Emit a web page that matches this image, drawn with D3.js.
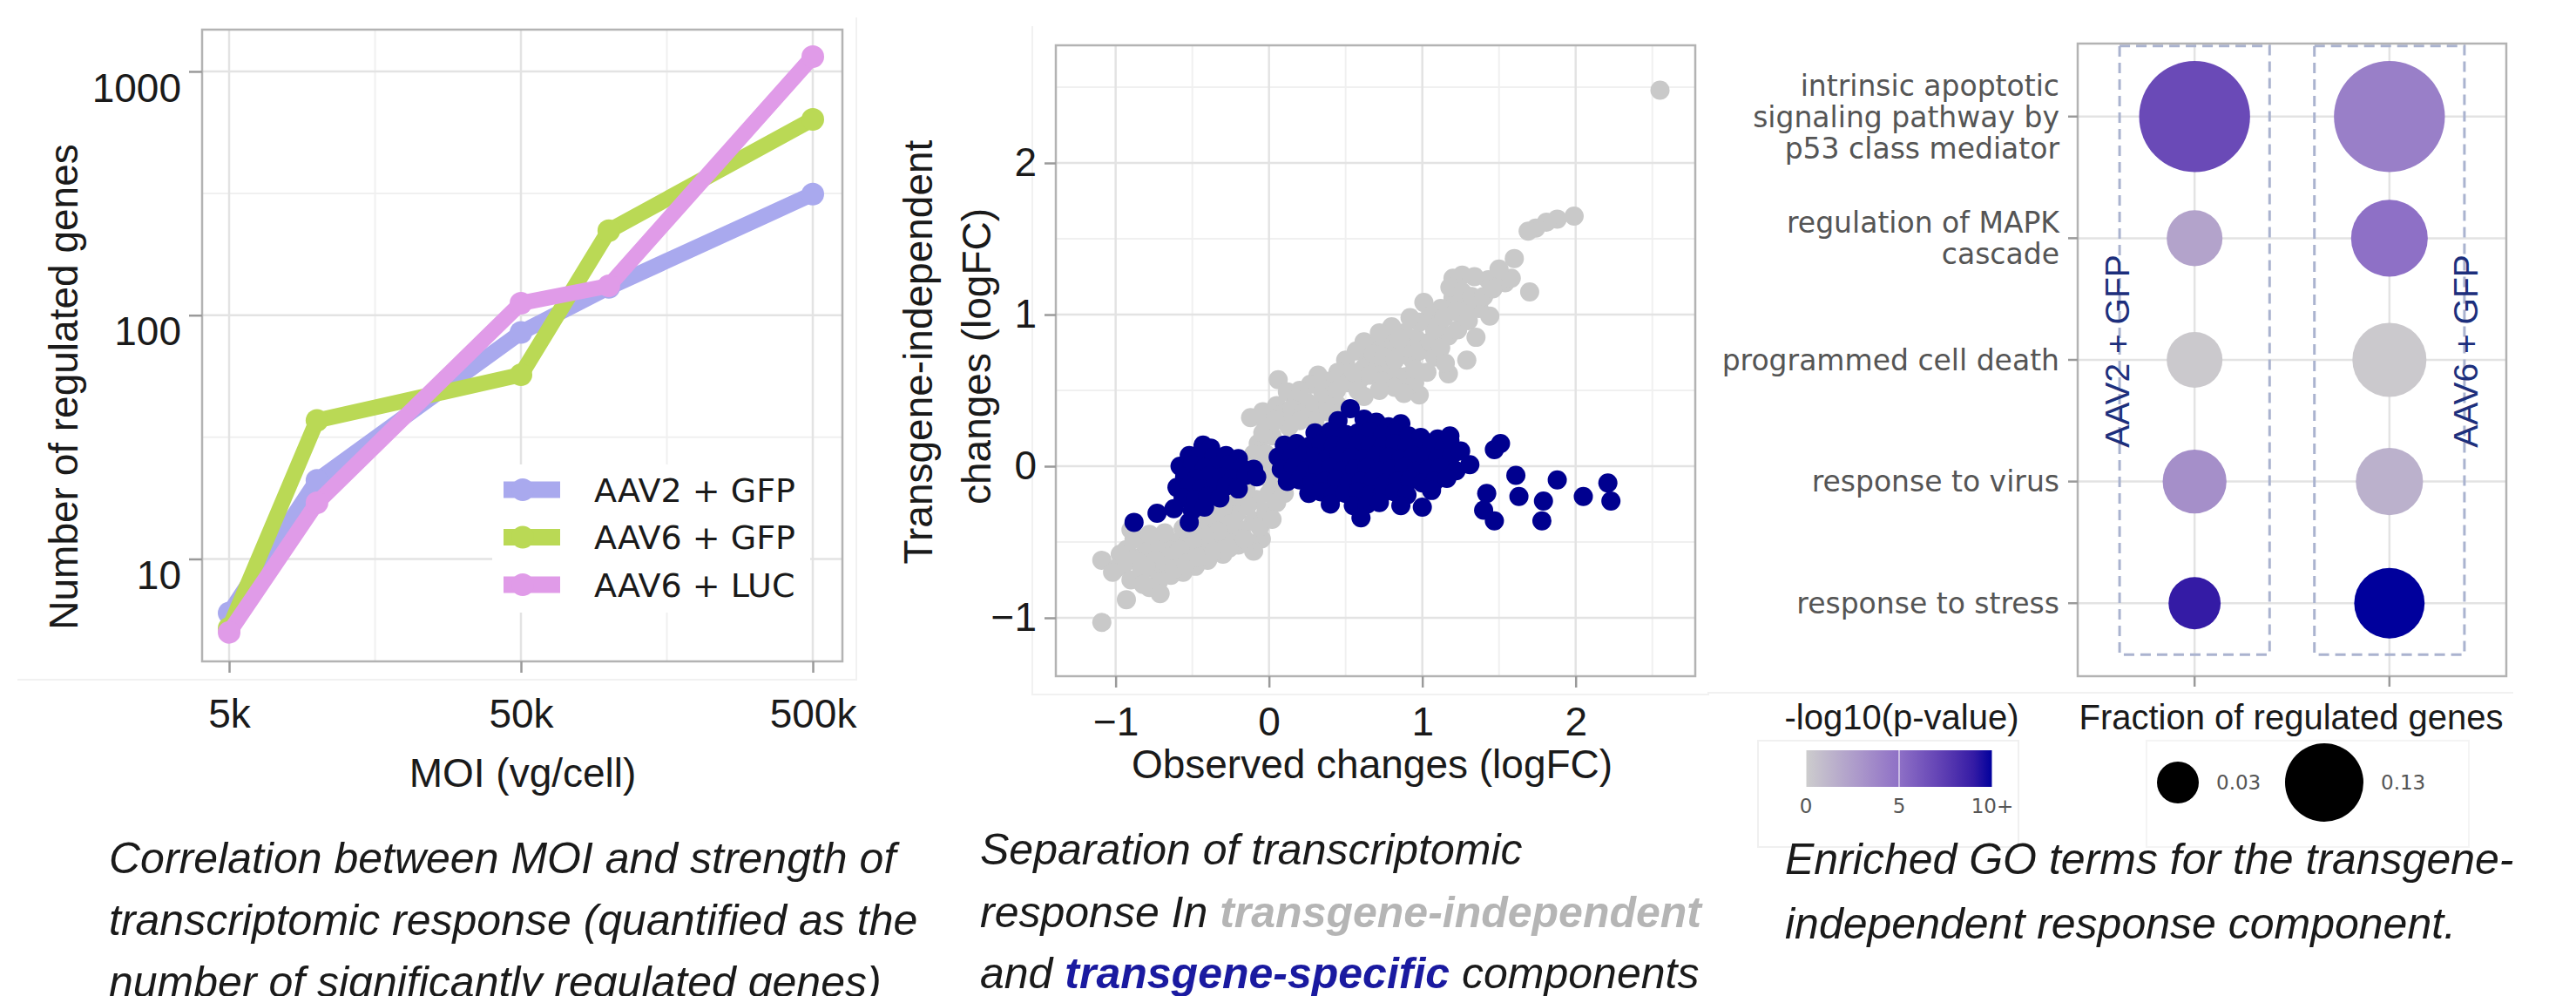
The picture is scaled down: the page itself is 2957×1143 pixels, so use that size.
<!DOCTYPE html>
<html>
<head>
<meta charset="utf-8">
<script src="https://cdn.jsdelivr.net/npm/d3@7"></script>
<style>
  body { margin: 0; background: #fff; }
  text { font-family: "Liberation Sans", Arial, sans-serif; }
</style>
</head>
<body>
<div id="chart"></div>
<script>
// ---------- panel 1 : MOI vs number of regulated genes ----------
const moi = [5000, 10000, 50000, 100000, 500000];
const moiTicks = [5000, 50000, 500000];
const moiLabels = ["5k", "50k", "500k"];
const geneTicks = [10, 100, 1000];
const seriesNames = ["AAV2 + GFP", "AAV6 + GFP", "AAV6 + LUC"];
const aav2Gfp = [6, 21, 85, 130, 314];
const aav6Gfp = [5.2, 37, 57, 222, 636];
const aav6Luc = [5, 17, 112, 132, 1150];
const seriesColors = ["#a9a9ee", "#bad955", "#e09be8"];

// ---------- panel 2 : observed vs transgene-independent logFC ----------
const logfcTicks = [-1, 0, 1, 2];
const grayPts = [
  [2.55,2.48],[1.99,1.65],[1.88,1.63],[1.81,1.61],[1.74,1.57],[1.69,1.55],
  [1.60,1.37],[1.54,1.21],[1.58,1.24],[1.70,1.15],[1.43,1.23],[1.34,1.25],[1.26,1.26],[1.20,1.24],
  [1.44,0.99],[1.37,1.04],[1.29,1.07],[1.20,1.11],[1.12,1.04],[1.01,1.08],[1.05,0.99],[1.11,0.94],
  [1.17,0.86],[1.23,0.90],[1.29,0.70],[1.17,0.61],[0.98,0.47],[1.03,0.62],[0.96,0.84],[0.88,0.88],
  [0.80,0.92],[0.78,0.80],[0.86,0.75],[0.93,0.71],[0.70,0.80],[0.62,0.82],[0.57,0.76],[0.65,0.70],
  [0.73,0.66],[0.81,0.62],[0.89,0.59],[0.95,0.55],[0.50,0.70],[0.45,0.62],[0.39,0.56],[0.32,0.60],
  [0.27,0.54],[0.20,0.50],[0.35,0.49],[0.51,0.55],[0.60,0.58],[0.06,0.57],[0.12,0.49],[0.18,0.44],
  [0.25,0.42],[0.05,0.40],[-0.04,0.36],[-0.12,0.32],[-0.02,0.28],[0.08,0.34],[0.13,0.26],[0.02,0.20],
  [-0.07,0.15],[-0.02,0.08],[0.03,0.00],[-0.05,-0.05],[0.07,-0.12],[0.00,-0.18],[-0.08,-0.22],
  [0.15,0.38],[0.22,0.35],[0.30,0.40],[0.38,0.45],[0.44,0.50],[0.55,0.62],[0.62,0.65],[0.68,0.74],
  [0.75,0.72],[0.82,0.70],[0.90,0.78],[0.98,0.76],[1.05,0.82],[1.08,0.90],[0.98,0.95],[0.92,0.98],
  [0.85,0.84],[0.72,0.88],[0.66,0.60],[0.74,0.56],[0.82,0.52],[0.88,0.48],[0.58,0.50],[0.45,0.40],
  [0.38,0.36],[1.14,0.98],[1.18,1.18],[1.26,1.15],[1.32,1.12],[1.22,1.02],[1.30,0.96],[1.35,0.85],
  [1.08,0.72],[1.12,0.78],[0.95,0.64],[0.72,0.50],[0.62,0.46],[0.30,0.30],[0.20,0.30],[1.15,0.68],
  [1.40,1.12],[1.50,1.30],[1.46,1.17],
  [-0.14,-0.26],[-0.21,-0.31],[-0.29,-0.36],[-0.37,-0.40],[-0.45,-0.43],[-0.53,-0.47],[-0.60,-0.50],
  [-0.68,-0.54],[-0.76,-0.58],[-0.84,-0.60],[-0.93,-0.55],
  [-0.10,-0.36],[-0.18,-0.42],[-0.26,-0.46],[-0.34,-0.50],[-0.42,-0.54],[-0.50,-0.58],[-0.58,-0.62],
  [-0.66,-0.64],[-0.74,-0.68],[-0.83,-0.70],
  [-0.05,-0.48],[-0.10,-0.56],[-0.20,-0.52],[-0.30,-0.58],[-0.40,-0.62],[-0.48,-0.66],[-0.56,-0.70],
  [-0.64,-0.72],[-0.72,-0.76],[-0.62,-0.60],[-0.70,-0.50],[-0.80,-0.52],[-0.88,-0.48],[-0.97,-0.58],
  [-1.09,-0.62],[-0.99,-0.67],[-1.09,-1.03],[-0.93,-0.88],[-0.71,-0.84],[-0.78,-0.80],
  [-0.02,-0.30],[0.05,-0.24],[-0.35,-0.30],[-0.25,-0.26],[-0.48,-0.36],
  [-0.15,-0.15],[-0.22,-0.20],[-0.30,-0.28],[-0.38,-0.34],[-0.45,-0.36],[-0.15,-0.50],[-0.25,-0.38],
  [-0.33,-0.43],[-0.42,-0.47],[-0.50,-0.50],[-0.58,-0.55],[-0.66,-0.60],[-0.74,-0.62],[-0.80,-0.66],
  [-0.88,-0.62],[-0.95,-0.65],[-1.02,-0.70],[-0.90,-0.75],[-0.82,-0.78],[-0.62,-0.68],[-0.54,-0.64],
  [-0.46,-0.60],[-0.36,-0.56],[-0.26,-0.54],[-0.16,-0.48],[-0.06,-0.40],[0.02,-0.35],[0.10,-0.18],
  [0.08,-0.05],[0.00,-0.08],[-0.06,0.02],[-0.10,0.08],[-0.04,0.22],[0.04,0.30],[-0.90,-0.42],
  [-0.78,-0.45],[-0.68,-0.44],[-0.56,-0.41]
];
const navyPts = [
  [0.53,0.38],
  [0.45,0.30],[0.62,0.31],[0.70,0.29],[0.86,0.28],[0.78,0.26],
  [0.30,0.22],[0.40,0.23],[0.50,0.21],[0.58,0.22],[0.66,0.23],[0.74,0.21],[0.82,0.22],[0.91,0.20],
  [0.99,0.19],[1.10,0.18],[1.18,0.17],
  [0.10,0.14],[0.18,0.15],[0.26,0.13],[0.34,0.15],[0.42,0.14],[0.50,0.13],[0.58,0.15],[0.66,0.14],
  [0.74,0.13],[0.82,0.15],[0.90,0.13],[0.98,0.12],[1.06,0.14],[1.14,0.12],
  [0.06,0.06],[0.14,0.05],[0.22,0.07],[0.30,0.06],[0.38,0.05],[0.46,0.07],[0.54,0.06],[0.62,0.05],
  [0.70,0.07],[0.78,0.06],[0.86,0.05],[0.94,0.07],[1.02,0.06],[1.10,0.05],[1.19,0.07],
  [0.08,-0.02],[0.16,-0.01],[0.24,-0.03],[0.32,-0.02],[0.40,-0.01],[0.48,-0.03],[0.56,-0.02],
  [0.64,-0.01],[0.72,-0.03],[0.80,-0.02],[0.88,-0.01],[0.96,-0.03],[1.04,-0.02],[1.12,-0.01],
  [1.22,-0.03],[1.31,0.01],
  [0.12,-0.10],[0.20,-0.09],[0.28,-0.11],[0.36,-0.10],[0.44,-0.09],[0.52,-0.11],[0.60,-0.10],
  [0.68,-0.09],[0.76,-0.11],[0.84,-0.10],[0.92,-0.09],[1.00,-0.11],[1.08,-0.10],[1.16,-0.08],
  [0.26,-0.18],[0.34,-0.17],[0.42,-0.19],[0.50,-0.18],[0.58,-0.17],[0.66,-0.19],[0.74,-0.18],
  [0.82,-0.17],[0.90,-0.19],[1.06,-0.16],
  [0.40,-0.25],[0.55,-0.26],[0.64,-0.25],[0.72,-0.24],[0.86,-0.26],[1.00,-0.27],[0.60,-0.34],
  [1.47,0.11],[1.51,0.15],[1.61,-0.06],[1.63,-0.20],[1.42,-0.18],[1.40,-0.29],[1.47,-0.36],
  [1.79,-0.23],[1.78,-0.36],[1.88,-0.09],[2.05,-0.20],[2.21,-0.11],[2.23,-0.23],[1.18,0.20],[1.25,0.10],
  [-0.43,0.14],[-0.38,0.12],
  [-0.52,0.07],[-0.45,0.08],[-0.36,0.06],[-0.28,0.07],[-0.20,0.05],
  [-0.58,0.00],[-0.50,0.01],[-0.42,-0.01],[-0.34,0.00],[-0.26,0.01],[-0.18,-0.01],[-0.10,-0.02],
  [-0.55,-0.07],[-0.47,-0.08],[-0.39,-0.06],[-0.31,-0.07],[-0.23,-0.08],[-0.15,-0.06],[-0.08,-0.07],
  [-0.60,-0.14],[-0.52,-0.13],[-0.44,-0.15],[-0.36,-0.14],[-0.28,-0.13],[-0.20,-0.15],
  [-0.56,-0.21],[-0.48,-0.22],[-0.40,-0.20],[-0.32,-0.21],
  [-0.62,-0.28],[-0.50,-0.29],[-0.42,-0.27],
  [-0.73,-0.31],[-0.88,-0.37],[-0.52,-0.37]
];

// ---------- panel 3 : enriched GO terms ----------
const goTerms = [
  ["intrinsic apoptotic", "signaling pathway by", "p53 class mediator"],
  ["regulation of MAPK", "cascade"],
  ["programmed cell death"],
  ["response to virus"],
  ["response to stress"]
];
const groups = ["AAV2 + GFP", "AAV6 + GFP"];
const fracAav2 = [0.27, 0.061, 0.061, 0.083, 0.052];
const fracAav6 = [0.27, 0.124, 0.115, 0.093, 0.103];
const pvalAav2 = [6.8, 2.2, 0.2, 3.3, 9.0];
const pvalAav6 = [4.2, 5.0, 0.2, 1.5, 12];
const sizeBreaks = [0.03, 0.13];
const colorBreaks = [0, 5, 10];

// ---------- drawing ----------
const W = 2957, H = 1143;
const svg = d3.select("#chart").append("svg")
  .attr("width", W).attr("height", H)
  .style("background", "#fff");

const ink = "#1a1a1a";
const gridMajor = "#e3e3e3", gridMinor = "#f0f0f0", frame = "#b3b3b3";

function styleAxis(g, size) {
  g.select(".domain").remove();
  g.selectAll(".tick line").attr("stroke", "#9a9a9a").attr("stroke-width", 2.5);
  g.selectAll(".tick text").attr("fill", ink).style("font-size", size + "px");
}

// ===== panel 1 =====
const p1 = { l: 232, r: 967, t: 34, b: 759 };
const x1 = d3.scaleLog().domain([4040, 631600]).range([p1.l, p1.r]);
const y1 = d3.scaleLog().domain([3.8, 1484]).range([p1.b, p1.t]);
const g1 = svg.append("g");

g1.append("path").attr("d", `M20,780H983V20`).attr("fill", "none").attr("stroke", "#f1f1f1").attr("stroke-width", 2);

g1.selectAll(".vminor").data([15811, 158114]).join("line")
  .attr("x1", d => x1(d)).attr("x2", d => x1(d)).attr("y1", p1.t).attr("y2", p1.b)
  .attr("stroke", gridMinor).attr("stroke-width", 2);
g1.selectAll(".hminor").data([31.6, 316]).join("line")
  .attr("y1", d => y1(d)).attr("y2", d => y1(d)).attr("x1", p1.l).attr("x2", p1.r)
  .attr("stroke", gridMinor).attr("stroke-width", 2);
g1.selectAll(".vmajor").data(moiTicks).join("line")
  .attr("x1", d => x1(d)).attr("x2", d => x1(d)).attr("y1", p1.t).attr("y2", p1.b)
  .attr("stroke", gridMajor).attr("stroke-width", 2.5);
g1.selectAll(".hmajor").data(geneTicks).join("line")
  .attr("y1", d => y1(d)).attr("y2", d => y1(d)).attr("x1", p1.l).attr("x2", p1.r)
  .attr("stroke", gridMajor).attr("stroke-width", 2.5);

const series = [aav2Gfp, aav6Gfp, aav6Luc];
const line1 = d3.line().x((d, i) => x1(moi[i])).y(d => y1(d));
series.forEach((vals, k) => {
  g1.append("path").datum(vals).attr("d", line1)
    .attr("fill", "none").attr("stroke", seriesColors[k])
    .attr("stroke-width", 18).attr("stroke-linejoin", "round").attr("stroke-linecap", "round");
  g1.selectAll(null).data(vals).join("circle")
    .attr("cx", (d, i) => x1(moi[i])).attr("cy", d => y1(d)).attr("r", 13)
    .attr("fill", seriesColors[k]);
});

g1.append("rect").attr("x", p1.l).attr("y", p1.t)
  .attr("width", p1.r - p1.l).attr("height", p1.b - p1.t)
  .attr("fill", "none").attr("stroke", frame).attr("stroke-width", 2.5);

const ax1 = g1.append("g").attr("transform", `translate(0,${p1.b})`)
  .call(d3.axisBottom(x1).tickValues(moiTicks).tickFormat((d, i) => moiLabels[i]).tickSize(13).tickPadding(30));
styleAxis(ax1, 46);
const ay1 = g1.append("g").attr("transform", `translate(${p1.l},0)`)
  .call(d3.axisLeft(y1).tickValues(geneTicks).tickFormat(d3.format("d")).tickSize(15).tickPadding(9));
styleAxis(ay1, 46);
ay1.selectAll(".tick text").attr("dy", "0.74em");

g1.append("text").attr("x", 600).attr("y", 903).attr("text-anchor", "middle")
  .attr("fill", ink).style("font-size", "46px").text("MOI (vg/cell)");
g1.append("text").attr("transform", "translate(89,444) rotate(-90)").attr("text-anchor", "middle")
  .attr("fill", ink).style("font-size", "46px").text("Number of regulated genes");

// legend
const leg1 = g1.append("g");
leg1.append("rect").attr("x", 565).attr("y", 533).attr("width", 365).attr("height", 170).attr("fill", "#fff");
const legY = d3.scalePoint().domain(seriesNames).range([562, 671]);
seriesNames.forEach((name, k) => {
  const yy = legY(name);
  leg1.append("line").attr("x1", 578).attr("x2", 643).attr("y1", yy).attr("y2", yy)
    .attr("stroke", seriesColors[k]).attr("stroke-width", 19);
  leg1.append("circle").attr("cx", 600).attr("cy", yy).attr("r", 13).attr("fill", seriesColors[k]);
  leg1.append("text").attr("x", 682).attr("y", yy).attr("dy", "0.36em")
    .style("font-family", "'DejaVu Sans', sans-serif").style("font-size", "38px")
    .attr("fill", ink).text(name);
});

// ===== panel 2 =====
const p2 = { l: 1212, r: 1946, t: 52, b: 776 };
const x2 = d3.scaleLinear().domain([-1.39, 2.78]).range([p2.l, p2.r]);
const y2 = d3.scaleLinear().domain([-1.385, 2.776]).range([p2.b, p2.t]);
const g2 = svg.append("g");

g2.append("path").attr("d", `M1185,30V797H1962`).attr("fill", "none").attr("stroke", "#f1f1f1").attr("stroke-width", 2);

const minor2 = [-0.5, 0.5, 1.5, 2.5];
g2.selectAll(".vminor").data(minor2).join("line")
  .attr("x1", d => x2(d)).attr("x2", d => x2(d)).attr("y1", p2.t).attr("y2", p2.b)
  .attr("stroke", gridMinor).attr("stroke-width", 2);
g2.selectAll(".hminor").data(minor2).join("line")
  .attr("y1", d => y2(d)).attr("y2", d => y2(d)).attr("x1", p2.l).attr("x2", p2.r)
  .attr("stroke", gridMinor).attr("stroke-width", 2);
g2.selectAll(".vmajor").data(logfcTicks).join("line")
  .attr("x1", d => x2(d)).attr("x2", d => x2(d)).attr("y1", p2.t).attr("y2", p2.b)
  .attr("stroke", gridMajor).attr("stroke-width", 2.5);
g2.selectAll(".hmajor").data(logfcTicks).join("line")
  .attr("y1", d => y2(d)).attr("y2", d => y2(d)).attr("x1", p2.l).attr("x2", p2.r)
  .attr("stroke", gridMajor).attr("stroke-width", 2.5);

g2.selectAll(".gray").data(grayPts).join("circle")
  .attr("cx", d => x2(d[0])).attr("cy", d => y2(d[1])).attr("r", 11).attr("fill", "#c9c9c9");
g2.selectAll(".navy").data(navyPts).join("circle")
  .attr("cx", d => x2(d[0])).attr("cy", d => y2(d[1])).attr("r", 11).attr("fill", "#00008f");

g2.append("rect").attr("x", p2.l).attr("y", p2.t)
  .attr("width", p2.r - p2.l).attr("height", p2.b - p2.t)
  .attr("fill", "none").attr("stroke", frame).attr("stroke-width", 2.5);

const ax2 = g2.append("g").attr("transform", `translate(0,${p2.b})`)
  .call(d3.axisBottom(x2).tickValues(logfcTicks).tickFormat(d3.format("d")).tickSize(13).tickPadding(22));
styleAxis(ax2, 46);
const ay2 = g2.append("g").attr("transform", `translate(${p2.l},0)`)
  .call(d3.axisLeft(y2).tickValues(logfcTicks).tickFormat(d3.format("d")).tickSize(13).tickPadding(9));
styleAxis(ay2, 46);

g2.append("text").attr("x", 1575).attr("y", 893).attr("text-anchor", "middle")
  .attr("fill", ink).style("font-size", "46px").text("Observed changes (logFC)");
g2.append("text").attr("transform", "translate(1070,404) rotate(-90)").attr("text-anchor", "middle")
  .attr("fill", ink).style("font-size", "46px").text("Transgene-independent");
g2.append("text").attr("transform", "translate(1137,409) rotate(-90)").attr("text-anchor", "middle")
  .attr("fill", ink).style("font-size", "46px").text("changes (logFC)");

// ===== panel 3 =====
const p3 = { l: 2385, r: 2877, t: 50, b: 776 };
const rowKeys = goTerms.map(d => d.join(" "));
const x3 = d3.scalePoint().domain(groups).range([p3.l, p3.r]).padding(0.6);
const y3 = d3.scalePoint().domain(rowKeys).range([p3.t, p3.b]).padding(0.6);
const area = d3.scaleLinear().domain(sizeBreaks).range([24 * 24, 45 * 45]);
const rad = v => Math.sqrt(area(v));
const col = d3.scaleLinear().domain([0, 5, 10]).range(["#cdcdcd", "#8e70c6", "#00009c"])
  .interpolate(d3.interpolateLab).clamp(true);
const g3 = svg.append("g");

g3.append("line").attr("x1", 1960).attr("x2", 2885).attr("y1", 795).attr("y2", 795)
  .attr("stroke", "#f1f1f1").attr("stroke-width", 2);

g3.selectAll(".hg").data(rowKeys).join("line")
  .attr("x1", p3.l).attr("x2", p3.r).attr("y1", d => y3(d)).attr("y2", d => y3(d))
  .attr("stroke", gridMajor).attr("stroke-width", 2.5);
g3.selectAll(".vg").data(groups).join("line")
  .attr("y1", p3.t).attr("y2", p3.b).attr("x1", d => x3(d)).attr("x2", d => x3(d))
  .attr("stroke", gridMajor).attr("stroke-width", 2.5);

// dashed group boxes
const boxHalf = x3.step() * 0.385;
g3.selectAll(".box").data(groups).join("rect")
  .attr("x", d => x3(d) - boxHalf).attr("width", boxHalf * 2)
  .attr("y", y3(rowKeys[0]) - 81).attr("height", y3(rowKeys[4]) + 59 - (y3(rowKeys[0]) - 81))
  .attr("fill", "none").attr("stroke", "#aab3cf").attr("stroke-width", 3)
  .attr("stroke-dasharray", "12,7");

const bubbles = [];
rowKeys.forEach((k, i) => {
  bubbles.push({ g: groups[0], k, f: fracAav2[i], p: pvalAav2[i] });
  bubbles.push({ g: groups[1], k, f: fracAav6[i], p: pvalAav6[i] });
});
g3.selectAll(".bub").data(bubbles).join("circle")
  .attr("cx", d => x3(d.g)).attr("cy", d => y3(d.k)).attr("r", d => rad(d.f))
  .attr("fill", d => col(d.p));

g3.append("rect").attr("x", p3.l).attr("y", p3.t)
  .attr("width", p3.r - p3.l).attr("height", p3.b - p3.t)
  .attr("fill", "none").attr("stroke", frame).attr("stroke-width", 2.5);

// ticks
g3.selectAll(".tx").data(groups).join("line")
  .attr("x1", d => x3(d)).attr("x2", d => x3(d)).attr("y1", p3.b).attr("y2", p3.b + 12)
  .attr("stroke", "#9a9a9a").attr("stroke-width", 2.5);
g3.selectAll(".ty").data(rowKeys).join("line")
  .attr("x1", p3.l - 11).attr("x2", p3.l).attr("y1", d => y3(d)).attr("y2", d => y3(d))
  .attr("stroke", "#9a9a9a").attr("stroke-width", 2.5);

// row labels
goTerms.forEach((lines, i) => {
  const cy = y3(rowKeys[i]);
  const t = g3.append("text").attr("text-anchor", "end")
    .style("font-family", "'DejaVu Sans', sans-serif").style("font-size", "33px").attr("fill", "#555");
  lines.forEach((ln, j) => {
    t.append("tspan").attr("x", 2364)
      .attr("y", cy + (j - (lines.length - 1) / 2) * 36).attr("dy", "0.36em").text(ln);
  });
});

// group labels inside boxes
g3.append("text").attr("transform", `translate(${x3(groups[0]) - 75},403) rotate(-90)`)
  .attr("text-anchor", "middle").style("font-size", "39px").attr("fill", "#1d2f7c").text(groups[0]);
g3.append("text").attr("transform", `translate(${x3(groups[1]) + 101},403) rotate(-90)`)
  .attr("text-anchor", "middle").style("font-size", "39px").attr("fill", "#1d2f7c").text(groups[1]);

// colour legend
const defs = svg.append("defs");
const grad = defs.append("linearGradient").attr("id", "pgrad");
d3.range(0, 11).forEach(v => {
  grad.append("stop").attr("offset", (v / 10 * 100) + "%").attr("stop-color", col(v));
});
g3.append("rect").attr("x", 2018).attr("y", 850).attr("width", 299).attr("height", 122)
  .attr("fill", "#fff").attr("stroke", "#f0f0f0").attr("stroke-width", 2);
g3.append("text").attr("x", 2183).attr("y", 837).attr("text-anchor", "middle")
  .style("font-size", "40px").attr("fill", ink).text("-log10(p-value)");
const cbx = d3.scaleLinear().domain([0, 10]).range([2073, 2287]);
g3.append("rect").attr("x", cbx(0)).attr("y", 861).attr("width", cbx(10) - cbx(0)).attr("height", 42)
  .attr("fill", "url(#pgrad)");
g3.selectAll(".cbt").data(colorBreaks).join("line")
  .attr("x1", d => cbx(d)).attr("x2", d => cbx(d)).attr("y1", 861).attr("y2", 903)
  .attr("stroke", "#fff").attr("stroke-width", 1.5).attr("opacity", 0.7);
g3.selectAll(".cbl").data(colorBreaks).join("text")
  .attr("x", d => cbx(d)).attr("y", 933).attr("text-anchor", "middle")
  .style("font-family", "'DejaVu Sans', sans-serif").style("font-size", "23px").attr("fill", "#555")
  .text(d => d === 10 ? "10+" : d);

// size legend
g3.append("rect").attr("x", 2464).attr("y", 850).attr("width", 370).attr("height", 122)
  .attr("fill", "#fff").attr("stroke", "#f4f4f4").attr("stroke-width", 2);
g3.append("text").attr("x", 2630).attr("y", 837).attr("text-anchor", "middle")
  .style("font-size", "40px").attr("fill", ink).text("Fraction of regulated genes");
const sizeX = d3.scalePoint().domain(sizeBreaks).range([2500, 2668]);
g3.selectAll(".sz").data(sizeBreaks).join("circle")
  .attr("cx", d => sizeX(d)).attr("cy", 898).attr("r", d => rad(d)).attr("fill", "#000");
g3.selectAll(".szl").data(sizeBreaks).join("text")
  .attr("x", d => sizeX(d) + rad(d) + 20).attr("y", 898).attr("dy", "0.36em")
  .style("font-family", "'DejaVu Sans', sans-serif").style("font-size", "23px").attr("fill", "#555")
  .text(d => d.toFixed(2));

// ===== captions =====
const cap = svg.append("g").style("font-style", "italic").style("font-size", "50px").attr("fill", ink);
const cap1 = ["Correlation between MOI and strength of",
  "transcriptomic response (quantified as the",
  "number of significantly regulated genes)"];
cap1.forEach((s, i) => cap.append("text").attr("x", 125).attr("y", 1002 + i * 71).text(s));

cap.append("text").attr("x", 1125).attr("y", 992).text("Separation of transcriptomic");
const c2 = cap.append("text").attr("x", 1125).attr("y", 1064);
c2.append("tspan").text("response In ");
c2.append("tspan").style("font-weight", "bold").attr("fill", "#b5b5b5").text("transgene-independent");
const c3 = cap.append("text").attr("x", 1125).attr("y", 1134);
c3.append("tspan").text("and ");
c3.append("tspan").style("font-weight", "bold").attr("fill", "#1a1aa0").text("transgene-specific");
c3.append("tspan").text(" components");

cap.append("text").attr("x", 2049).attr("y", 1003).text("Enriched GO terms for the transgene-");
cap.append("text").attr("x", 2049).attr("y", 1077).text("independent response component.");
</script>
</body>
</html>
